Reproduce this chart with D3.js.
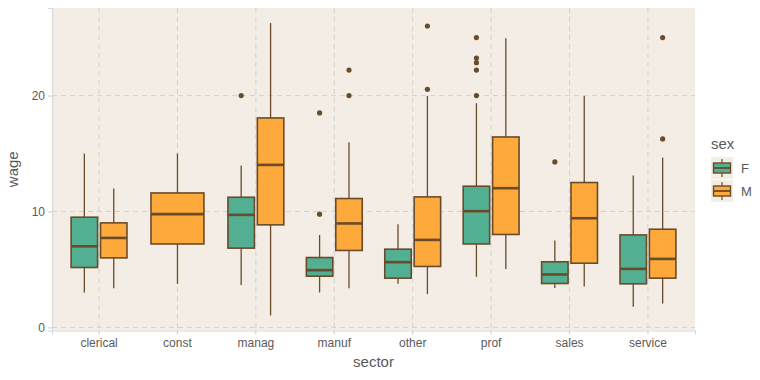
<!DOCTYPE html>
<html>
<head>
<meta charset="utf-8">
<script src="https://cdn.jsdelivr.net/npm/d3@7"></script>
<style>
  body { margin: 0; background: #ffffff; }
  svg { display: block; font-family: "Liberation Sans", Arial, sans-serif; }
</style>
</head>
<body>
<svg class="chart" width="760" height="380"></svg>
<script>
  const sectors = ["clerical", "const", "manag", "manuf", "other", "prof", "sales", "service"];
  const sexes = ["F", "M"];
  const yTicks = [0, 10, 20];

  // [lower whisker, q1, median, q3, upper whisker], null where there is no group
  const femaleStats = [
    [3.02, 5.17, 7.0, 9.51, 15.0],
    null,
    [3.67, 6.84, 9.71, 11.23, 13.97],
    [3.02, 4.42, 4.94, 6.03, 7.98],
    [3.76, 4.25, 5.63, 6.75, 8.9],
    [4.36, 7.2, 10.03, 12.18, 19.34],
    [3.41, 3.79, 4.57, 5.66, 7.5],
    [1.78, 3.76, 5.05, 7.98, 13.1]
  ];
  const maleStats = [
    [3.39, 6.0, 7.72, 9.02, 11.98],
    [3.76, 7.2, 9.77, 11.6, 15.0],
    [1.03, 8.85, 14.02, 18.07, 26.26],
    [3.39, 6.64, 8.97, 11.12, 15.97],
    [2.87, 5.26, 7.55, 11.26, 19.97],
    [5.05, 8.02, 12.01, 16.43, 24.94],
    [3.53, 5.54, 9.42, 12.5, 19.97],
    [2.07, 4.25, 5.91, 8.47, 14.65]
  ];
  const femaleOutliers = [
    [], [], [20.0], [9.77, 18.5], [], [20.0, 22.2, 22.84, 23.24, 25.0], [14.28], []
  ];
  const maleOutliers = [
    [], [], [], [20.0, 22.2], [20.54, 26.0], [], [], [16.26, 25.0]
  ];

  const colors = { F: "#52af92", M: "#fda93b" };
  const ink = "#6a4b2a";
  const panelL = 52, panelR = 695, panelT = 8, panelB = 330.5;

  const svg = d3.select(".chart");

  const x = d3.scaleBand()
    .domain(sectors)
    .range([panelL, panelR])
    .paddingInner(0)
    .paddingOuter(0.1);

  const y = d3.scaleLinear()
    .domain([1.0 - 0.05 * 25.29, 26.29 + 0.05 * 25.29])
    .range([panelB, panelT]);

  // panel
  svg.append("rect")
    .attr("x", panelL).attr("y", panelT)
    .attr("width", panelR - panelL).attr("height", panelB - panelT)
    .attr("fill", "#f4ede5");

  // grid
  svg.append("g").selectAll("line")
    .data(yTicks)
    .enter().append("line")
      .attr("x1", panelL).attr("x2", panelR)
      .attr("y1", function(d) { return y(d); })
      .attr("y2", function(d) { return y(d); })
      .attr("stroke", "#d4d2ce").attr("stroke-width", 1)
      .attr("stroke-dasharray", "5,4");

  svg.append("g").selectAll("line")
    .data(sectors)
    .enter().append("line")
      .attr("x1", function(d) { return x(d) + x.bandwidth() / 2; })
      .attr("x2", function(d) { return x(d) + x.bandwidth() / 2; })
      .attr("y1", panelT).attr("y2", panelB)
      .attr("stroke", "#d4d2ce").attr("stroke-width", 1)
      .attr("stroke-dasharray", "5,4");

  // axes
  const yAxis = svg.append("g")
    .attr("transform", "translate(" + panelL + ",0)")
    .call(d3.axisLeft(y).tickValues(yTicks).tickSize(4).tickPadding(3));
  const xAxis = svg.append("g")
    .attr("transform", "translate(0," + panelB + ")")
    .call(d3.axisBottom(x).tickSize(4).tickPadding(4));

  [yAxis, xAxis].forEach(function(ax) {
    ax.select(".domain").attr("stroke", "#d9d9d9").attr("stroke-width", 1.2);
    ax.selectAll(".tick line").attr("stroke", "#cccccc");
    ax.selectAll(".tick text")
      .attr("fill", "#5a5a5a")
      .attr("font-size", 12)
      .attr("font-family", "'Liberation Sans', Arial, sans-serif");
  });

  // boxes
  const groups = [];
  sectors.forEach(function(s, i) {
    const present = [];
    if (femaleStats[i]) present.push({ sex: "F", stats: femaleStats[i], out: femaleOutliers[i] });
    if (maleStats[i]) present.push({ sex: "M", stats: maleStats[i], out: maleOutliers[i] });
    const total = x.bandwidth() * 0.75;
    const slot = total / present.length;
    present.forEach(function(p, j) {
      const cx = x(s) + x.bandwidth() / 2 - total / 2 + slot * (j + 0.5);
      groups.push({ sector: s, sex: p.sex, stats: p.stats, out: p.out, cx: cx, w: slot * 0.9 });
    });
  });

  const box = svg.append("g").selectAll("g")
    .data(groups)
    .enter().append("g");

  box.append("line")
    .attr("x1", function(d) { return d.cx; })
    .attr("x2", function(d) { return d.cx; })
    .attr("y1", function(d) { return y(d.stats[0]); })
    .attr("y2", function(d) { return y(d.stats[4]); })
    .attr("stroke", ink).attr("stroke-width", 1.3);

  box.append("rect")
    .attr("x", function(d) { return d.cx - d.w / 2; })
    .attr("y", function(d) { return y(d.stats[3]); })
    .attr("width", function(d) { return d.w; })
    .attr("height", function(d) { return y(d.stats[1]) - y(d.stats[3]); })
    .attr("fill", function(d) { return colors[d.sex]; })
    .attr("stroke", ink).attr("stroke-width", 1.6);

  box.append("line")
    .attr("x1", function(d) { return d.cx - d.w / 2; })
    .attr("x2", function(d) { return d.cx + d.w / 2; })
    .attr("y1", function(d) { return y(d.stats[2]); })
    .attr("y2", function(d) { return y(d.stats[2]); })
    .attr("stroke", ink).attr("stroke-width", 2.6);

  box.selectAll("circle")
    .data(function(d) { return d.out.map(function(v) { return { cx: d.cx, v: v }; }); })
    .enter().append("circle")
      .attr("cx", function(d) { return d.cx; })
      .attr("cy", function(d) { return y(d.v); })
      .attr("r", 2.6)
      .attr("fill", ink);

  // axis titles
  svg.append("text")
    .attr("x", (panelL + panelR) / 2).attr("y", 367)
    .attr("text-anchor", "middle")
    .attr("font-size", 15).attr("fill", "#5a5a5a")
    .text("sector");

  svg.append("text")
    .attr("transform", "translate(18," + ((panelT + panelB) / 2) + ") rotate(-90)")
    .attr("text-anchor", "middle")
    .attr("font-size", 15).attr("fill", "#5a5a5a")
    .text("wage");

  // legend
  const legend = svg.append("g").attr("transform", "translate(711,149)");
  legend.append("text")
    .attr("x", 0).attr("y", 0)
    .attr("font-size", 15).attr("fill", "#5a5a5a")
    .text("sex");

  const key = legend.selectAll("g.key")
    .data(sexes)
    .enter().append("g")
      .attr("class", "key")
      .attr("transform", function(d, i) { return "translate(0," + (8 + i * 23) + ")"; });

  key.append("rect")
    .attr("width", 22).attr("height", 22)
    .attr("fill", "#f4ede5");
  key.append("line")
    .attr("x1", 11).attr("x2", 11).attr("y1", 2).attr("y2", 20)
    .attr("stroke", ink).attr("stroke-width", 1.2);
  key.append("rect")
    .attr("x", 2.5).attr("y", 6).attr("width", 17).attr("height", 10)
    .attr("fill", function(d) { return colors[d]; })
    .attr("stroke", ink).attr("stroke-width", 1.4);
  key.append("line")
    .attr("x1", 2.5).attr("x2", 19.5).attr("y1", 11).attr("y2", 11)
    .attr("stroke", ink).attr("stroke-width", 1.8);
  key.append("text")
    .attr("x", 30).attr("y", 11).attr("dy", "0.36em")
    .attr("font-size", 13).attr("fill", "#5a5a5a")
    .text(function(d) { return d; });
</script>
</body>
</html>
